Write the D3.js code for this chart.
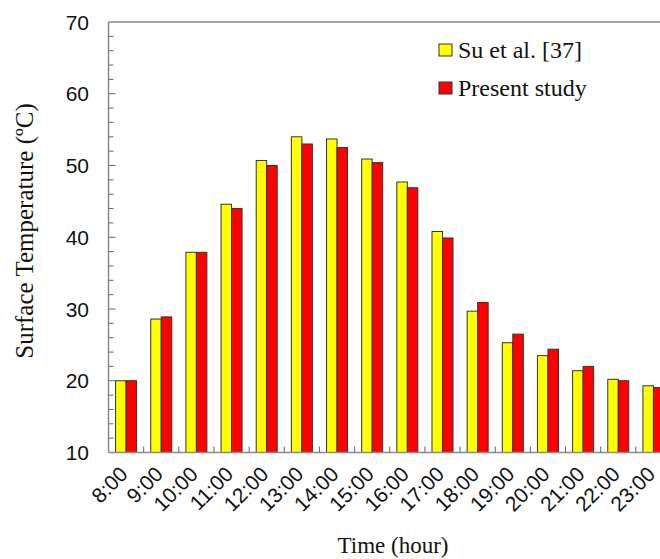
<!DOCTYPE html>
<html>
<head>
<meta charset="utf-8">
<script src="https://cdn.jsdelivr.net/npm/d3@7"></script>
<style>
  body { margin: 0; background: #fff; }
  svg { display: block; }
  .tick-label { font-family: 'Liberation Sans', Arial, sans-serif; font-size: 21px; fill: #111; }
  .title { font-family: 'Liberation Serif', 'Times New Roman', serif; font-size: 23px; fill: #111; }
</style>
</head>
<body>
<script>
const hours = ['8:00', '9:00', '10:00', '11:00', '12:00', '13:00', '14:00', '15:00',
  '16:00', '17:00', '18:00', '19:00', '20:00', '21:00', '22:00', '23:00']
const series = ['Su et al. [37]', 'Present study']
const suValues = [20, 28.6, 37.9, 44.6, 50.7, 54.0, 53.7, 50.9, 47.7, 40.8, 29.7, 25.3, 23.5, 21.4, 20.2, 19.3]
const presentValues = [20, 28.9, 37.9, 44.0, 50.0, 53.0, 52.5, 50.4, 46.9, 39.9, 30.9, 26.5, 24.4, 22.0, 20.0, 19.05]
const colors = ['#ffff00', '#ff0000']
const yMajor = [10, 20, 30, 40, 50, 60, 70]

const width = 660
const height = 559
const plotLeft = 108.5, plotTop = 22, plotBottom = 452.5
const plotRight = 671

const svg = d3.select('body').append('svg')
  .attr('width', width)
  .attr('height', height)

const x = d3.scaleBand()
  .domain(hours)
  .range([plotLeft, plotRight])

const y = d3.scaleLinear()
  .domain([10, 70])
  .range([plotBottom, plotTop])

const bw = x.bandwidth()
const x1 = d3.scaleBand()
  .domain(series)
  .range([bw / 2 - 10.5, bw / 2 + 10.5])

const rows = hours.map((h, i) => ({ hour: h, vals: [suValues[i], presentValues[i]] }))

// bars
svg.append('g')
  .selectAll('g')
  .data(rows)
  .enter()
  .append('g')
  .attr('transform', d => `translate(${x(d.hour)},0)`)
  .selectAll('rect')
  .data(d => d.vals.map((v, j) => ({ s: series[j], v, j })))
  .enter()
  .append('rect')
  .attr('x', d => x1(d.s))
  .attr('width', x1.bandwidth())
  .attr('y', d => y(d.v))
  .attr('height', d => y(10) - y(d.v))
  .attr('fill', d => colors[d.j])
  .attr('stroke', '#333')
  .attr('stroke-width', 1)

// frame: left, bottom, top
const axisColor = '#8a8a8a'
svg.append('line')
  .attr('x1', plotLeft).attr('x2', plotLeft).attr('y1', plotTop).attr('y2', plotBottom)
  .attr('stroke', axisColor).attr('stroke-width', 1.5)
svg.append('line')
  .attr('x1', plotLeft).attr('x2', plotRight).attr('y1', plotBottom).attr('y2', plotBottom)
  .attr('stroke', axisColor).attr('stroke-width', 1.5)
svg.append('line')
  .attr('x1', plotLeft).attr('x2', plotRight).attr('y1', plotTop).attr('y2', plotTop)
  .attr('stroke', axisColor).attr('stroke-width', 1.5)

// y ticks (inside), major every 10, minor every 2
const yMinor = d3.range(12, 70, 2).filter(v => v % 10 !== 0)
svg.append('g')
  .selectAll('line')
  .data(yMinor)
  .enter()
  .append('line')
  .attr('x1', plotLeft).attr('x2', plotLeft + 5)
  .attr('y1', d => y(d)).attr('y2', d => y(d))
  .attr('stroke', '#666').attr('stroke-width', 1)
svg.append('g')
  .selectAll('line')
  .data(yMajor.slice(1, -1))
  .enter()
  .append('line')
  .attr('x1', plotLeft).attr('x2', plotLeft + 7)
  .attr('y1', d => y(d)).attr('y2', d => y(d))
  .attr('stroke', '#666').attr('stroke-width', 1)

svg.append('g')
  .selectAll('text')
  .data(yMajor)
  .enter()
  .append('text')
  .attr('class', 'tick-label')
  .attr('x', 89)
  .attr('y', d => y(d))
  .attr('dy', '0.36em')
  .attr('text-anchor', 'end')
  .text(d => d)

// x ticks between categories (inside)
svg.append('g')
  .selectAll('line')
  .data(hours.slice(1))
  .enter()
  .append('line')
  .attr('x1', d => x(d)).attr('x2', d => x(d))
  .attr('y1', plotBottom).attr('y2', plotBottom - 6)
  .attr('stroke', '#666').attr('stroke-width', 1)

svg.append('g')
  .selectAll('text')
  .data(hours)
  .enter()
  .append('text')
  .attr('class', 'tick-label')
  .attr('text-anchor', 'end')
  .attr('transform', d => `translate(${x(d) + bw / 2 + 3},${plotBottom + 23}) rotate(-45)`)
  .text(d => d)

// axis titles
svg.append('text')
  .attr('class', 'title')
  .style('font-size', '25px')
  .attr('text-anchor', 'middle')
  .attr('transform', `translate(33,231) rotate(-90)`)
  .text('Surface Temperature (ºC)')

svg.append('text')
  .attr('class', 'title')
  .attr('text-anchor', 'middle')
  .attr('x', 393)
  .attr('y', 553)
  .text('Time (hour)')

// legend
const legend = svg.append('g')
  .selectAll('g')
  .data(series)
  .enter()
  .append('g')
  .attr('transform', (d, i) => `translate(439,${44 + i * 38})`)
legend.append('rect')
  .attr('width', 13).attr('height', 12)
  .attr('fill', (d, i) => colors[i])
  .attr('stroke', '#333').attr('stroke-width', 1)
legend.append('text')
  .attr('class', 'title')
  .style('font-size', '24px')
  .attr('x', 19)
  .attr('y', 14)
  .text(d => d)
</script>
</body>
</html>
